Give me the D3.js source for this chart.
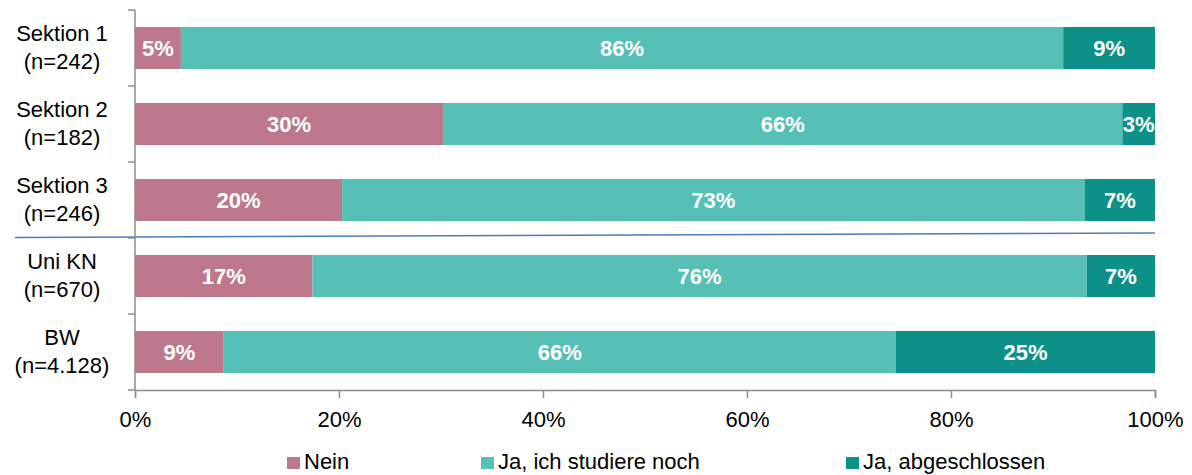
<!DOCTYPE html>
<html><head><meta charset="utf-8">
<script src="https://cdn.jsdelivr.net/npm/d3@7"></script>
<style>body{margin:0;background:#fff}svg{display:block;font-family:"Liberation Sans",Arial,sans-serif}</style>
</head><body><svg id="c" width="1192" height="475"></svg>
<script>
const categories = ["Sektion 1|(n=242)","Sektion 2|(n=182)","Sektion 3|(n=246)","Uni KN|(n=670)","BW|(n=4.128)"];
const seriesNames = ["Nein","Ja, ich studiere noch","Ja, abgeschlossen"];
const nein = [4.5, 30.2, 20.3, 17.4, 8.7];
const studiertNoch = [86.5, 66.6, 72.8, 75.9, 65.9];
const abgeschlossen = [9.0, 3.2, 6.9, 6.7, 25.4];
const labelsNein = ["5%","30%","20%","17%","9%"];
const labelsNoch = ["86%","66%","73%","76%","66%"];
const labelsAbg = ["9%","3%","7%","7%","25%"];
const xTicks = [0,20,40,60,80,100];
const colors = ["#bd798b","#56c0b6","#0d9088"];

const svg = d3.select("#c");
const m = {l:135, r:1155, t:10, b:390};
const x = d3.scaleLinear().domain([0,100]).range([m.l, m.r]);
const y = d3.scaleBand().domain(categories).range([m.t, m.b]).paddingInner(0.447).paddingOuter(0.2235);

const series = [nein, studiertNoch, abgeschlossen];
const labels = [labelsNein, labelsNoch, labelsAbg];
categories.forEach((c, i) => {
  let acc = 0;
  series.forEach((s, k) => {
    const v = s[i];
    svg.append("rect").attr("x", x(acc)).attr("y", y(c)).attr("width", x(acc+v)-x(acc)).attr("height", y.bandwidth()).attr("fill", colors[k]);
    svg.append("text").attr("x", (x(acc)+x(acc+v))/2).attr("y", y(c)+y.bandwidth()/2).attr("dy","0.36em")
      .attr("text-anchor","middle").attr("fill","#fff").attr("font-weight","bold").attr("font-size","22px").text(labels[k][i]);
    acc += v;
  });
});

// separator line
svg.append("line").attr("x1",15).attr("y1",237.5).attr("x2",x(100)).attr("y2",233).attr("stroke","#4a7ebb").attr("stroke-width",1.6);

// y axis
const gy = svg.append("g");
gy.append("line").attr("x1",m.l).attr("x2",m.l).attr("y1",m.t).attr("y2",m.b).attr("stroke","#8c8c8c").attr("stroke-width",1.5);
const step = y.step();
for (let i = 0; i <= categories.length; i++) {
  const yy = m.t + i*step;
  gy.append("line").attr("x1",m.l-7).attr("x2",m.l).attr("y1",yy).attr("y2",yy).attr("stroke","#8c8c8c").attr("stroke-width",1.5);
}
categories.forEach(c => {
  const [a,b] = c.split("|");
  const cy = y(c)+y.bandwidth()/2;
  const t = svg.append("text").attr("text-anchor","middle").attr("font-size","22px").attr("fill","#000");
  t.append("tspan").attr("x",62).attr("y",cy-14.5).attr("dy","0.36em").text(a);
  t.append("tspan").attr("x",62).attr("y",cy+13.5).attr("dy","0.36em").text(b);
});

// x axis
const gx = svg.append("g").attr("transform",`translate(0,${m.b})`)
  .call(d3.axisBottom(x).tickValues(xTicks).tickFormat(d=>d+"%").tickSize(8).tickPadding(13));
gx.select(".domain").attr("stroke","#8c8c8c").attr("stroke-width",1.5);
gx.selectAll(".tick line").attr("stroke","#8c8c8c").attr("stroke-width",1.5);
gx.selectAll(".tick text").attr("font-size","22px").attr("fill","#000").attr("font-family","Liberation Sans, Arial, sans-serif");

// legend
const legX = [287, 481, 846];
seriesNames.forEach((n,k) => {
  svg.append("rect").attr("x",legX[k]).attr("y",457).attr("width",13).attr("height",12).attr("fill",colors[k]);
  svg.append("text").attr("x",legX[k]+17).attr("y",469).attr("font-size","22px").attr("fill","#000").text(n);
});
</script></body></html>
